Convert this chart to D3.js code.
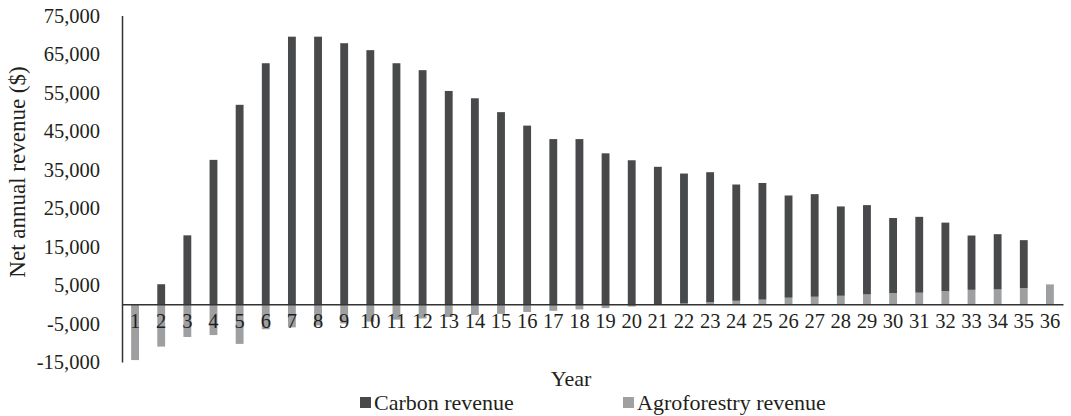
<!DOCTYPE html>
<html>
<head>
<meta charset="utf-8">
<script src="https://cdn.jsdelivr.net/npm/d3@7"></script>
<style>
  html, body { margin: 0; padding: 0; background: #fff; }
  svg { display: block; font-family: "Liberation Serif", "Times New Roman", serif; }
</style>
</head>
<body>
<svg id="chart" width="1071" height="416"></svg>
<script>
// Project years 1–36
const years = d3.range(1, 37);

// Net annual carbon revenue ($)
const carbonRevenue = [
  0, 5200, 17900, 37500, 51800, 62600, 69500, 69500, 67800, 66000,
  62600, 60800, 55400, 53500, 49900, 46400, 42900, 42900, 39200, 37400,
  35700, 33750, 33800, 30200, 30300, 26550, 26650, 23200, 23200, 19500,
  19700, 17800, 14100, 14350, 12450, 0
];

// Net annual agroforestry revenue ($)
const agroforestryRevenue = [
  -14500, -11000, -8500, -8000, -10300, -6500, -6000, -5500, -5000, -4500,
  -4000, -3700, -3300, -2800, -2500, -2000, -1700, -1350, -1000, -600,
  -200, 200, 500, 900, 1200, 1700, 1950, 2200, 2550, 2900,
  3000, 3400, 3750, 3850, 4200, 5150
];

const yTicks = [75000, 65000, 55000, 45000, 35000, 25000, 15000, 5000, -5000, -15000];
const seriesNames = ["Carbon revenue", "Agroforestry revenue"];

const colors = { carbon: "#48494b", agro: "#9e9fa1" };

const svg = d3.select("#chart");
const plot = { left: 122, right: 1063, top: 15.5, bottom: 362 };

const rows = years.map((yr, i) => ({ year: yr, agro: agroforestryRevenue[i], carbon: carbonRevenue[i] }));

const x = d3.scaleBand()
  .domain(years)
  .range([plot.left, plot.right])
  .paddingInner(0.7)
  .paddingOuter(0.35);

const y = d3.scaleLinear()
  .domain([-15000, 75000])
  .range([plot.bottom, plot.top]);

// Diverging stack: agroforestry sits next to zero, carbon stacks above it
const stacked = d3.stack()
  .keys(["agro", "carbon"])
  .offset(d3.stackOffsetDiverging)(rows);

svg.append("g")
  .selectAll("g")
  .data(stacked)
  .join("g")
  .attr("fill", d => colors[d.key])
  .selectAll("rect")
  .data(d => d)
  .join("rect")
  .attr("x", d => x(d.data.year))
  .attr("width", x.bandwidth())
  .attr("y", d => y(Math.max(d[0], d[1])))
  .attr("height", d => Math.abs(y(d[0]) - y(d[1])));

// Y axis with labels only
const fmt = v => (v < 0 ? "-" : "") + d3.format(",")(Math.abs(v));
const yAxis = svg.append("g")
  .attr("transform", `translate(${plot.left},0)`)
  .call(d3.axisLeft(y).tickValues(yTicks).tickSize(0).tickPadding(22).tickFormat(fmt));
yAxis.select(".domain").attr("stroke", "#333").attr("stroke-width", 1.5);
yAxis.selectAll("text")
  .attr("font-size", 20.5)
  .attr("fill", "#231f20")
  .attr("font-family", "Liberation Serif, Times New Roman, serif");

// Zero line with year labels just below it
const xAxis = svg.append("g")
  .attr("transform", `translate(0,${y(0)})`)
  .call(d3.axisBottom(x).tickSize(0).tickPadding(9).tickSizeOuter(0));
xAxis.select(".domain").attr("stroke", "#333").attr("stroke-width", 1.5);
xAxis.selectAll("text")
  .attr("font-size", 20.5)
  .attr("fill", "#231f20")
  .attr("font-family", "Liberation Serif, Times New Roman, serif");

// Axis titles
svg.append("text")
  .attr("transform", `translate(25,172) rotate(-90)`)
  .attr("text-anchor", "middle")
  .attr("font-size", 23)
  .attr("fill", "#231f20")
  .text("Net annual revenue ($)");

svg.append("text")
  .attr("x", 571)
  .attr("y", 386)
  .attr("text-anchor", "middle")
  .attr("font-size", 22)
  .attr("fill", "#231f20")
  .text("Year");

// Legend
const legend = svg.append("g");
const legendItems = [
  { name: seriesNames[0], color: colors.carbon, x: 360 },
  { name: seriesNames[1], color: "#a0a0a2", x: 623 }
];
legendItems.forEach(it => {
  legend.append("rect")
    .attr("x", it.x).attr("y", 397)
    .attr("width", 11).attr("height", 11)
    .attr("fill", it.color);
  legend.append("text")
    .attr("x", it.x + 14).attr("y", 410)
    .attr("font-size", 22)
    .attr("fill", "#231f20")
    .text(it.name);
});
</script>
</body>
</html>
